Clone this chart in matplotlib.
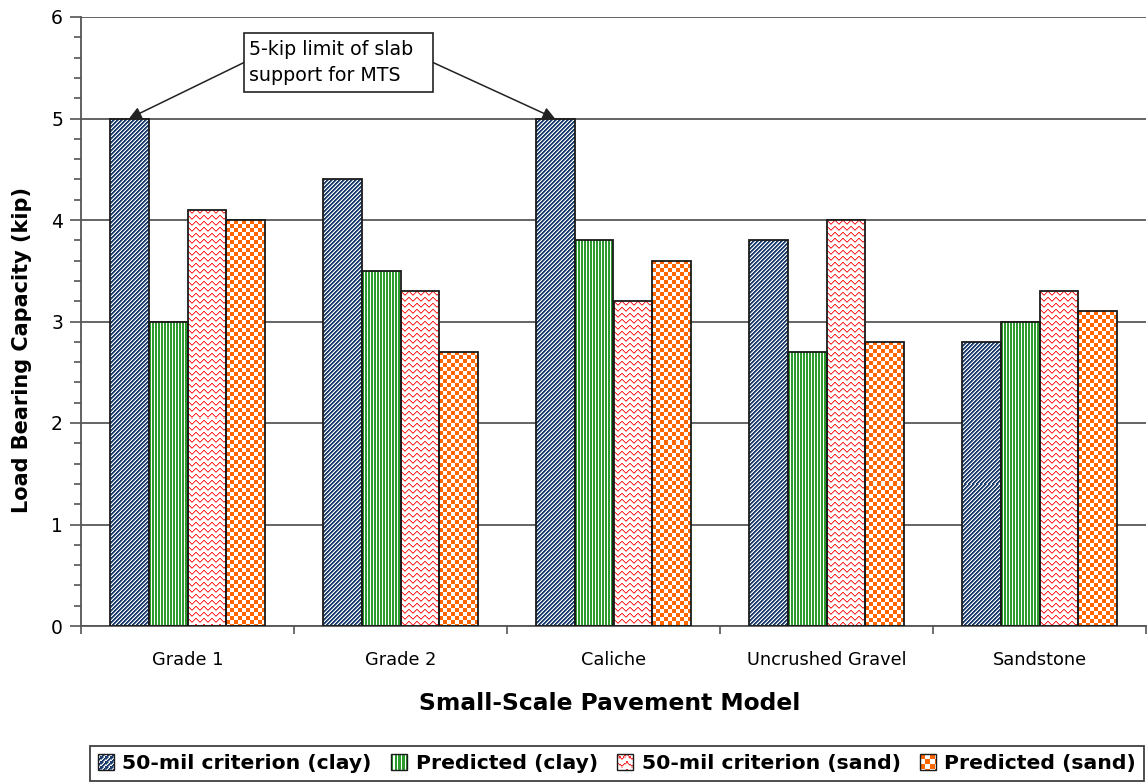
import numpy as np
import matplotlib
matplotlib.use("Agg")
import matplotlib.pyplot as plt
from matplotlib.legend_handler import HandlerBase
from matplotlib.image import BboxImage
from matplotlib.transforms import Bbox, TransformedBbox
from matplotlib.patches import Rectangle
from matplotlib.ticker import MultipleLocator, FixedLocator, NullFormatter, FixedFormatter

# ---- data -------------------------------------------------------------
categories = ["Grade 1", "Grade 2", "Caliche", "Uncrushed Gravel", "Sandstone"]
series_names = ["50-mil criterion (clay)", "Predicted (clay)",
                "50-mil criterion (sand)", "Predicted (sand)"]
crit_clay = [5.0, 4.4, 5.0, 3.8, 2.8]
pred_clay = [3.0, 3.5, 3.8, 2.7, 3.0]
crit_sand = [4.1, 3.3, 3.2, 4.0, 3.3]
pred_sand = [4.0, 2.7, 3.6, 2.8, 3.1]
series_values = [crit_clay, pred_clay, crit_sand, pred_sand]

y_label = "Load Bearing Capacity (kip)"
x_label = "Small-Scale Pavement Model"
note = "5-kip limit of slab\nsupport for MTS"

# ---- fill textures ----------------------------------------------------
NAVY = np.array([28, 62, 110]) / 255
GREEN = np.array([45, 155, 45]) / 255
RED = np.array([255, 45, 45]) / 255
PINK = np.array([255, 170, 170]) / 255
ORANGE = np.array([255, 102, 0]) / 255


def texture(kind, h, w):
    h, w = max(int(round(h)), 1), max(int(round(w)), 1)
    r = np.arange(h)[:, None]
    c = np.arange(w)[None, :]
    img = np.ones((h, w, 3))
    if kind == "diag":
        img[((c + r) % 4) < 2] = NAVY
        img[((c + r) % 4) == 2] = 0.5 * NAVY + 0.5
    elif kind == "vert":
        img[np.broadcast_to((c % 3) < 2, (h, w))] = GREEN
    elif kind == "wave":
        tri = np.array([0, 1, 2, 3, 3, 2, 1, 0])
        img[(r % 6) == (tri[c % 8] + 1) % 6] = PINK
        img[(r % 6) == tri[c % 8]] = RED
    else:
        img[((r // 4 + c // 4) % 2) == 0] = ORANGE
    return img


kinds = ["diag", "vert", "wave", "check"]

# ---- figure -----------------------------------------------------------
W, H, DPI = 1147, 783, 100
fig = plt.figure(figsize=(W / DPI, H / DPI), dpi=DPI)
ax_left, ax_bottom = 81 / W, (H - 626) / H
ax_w, ax_h = 1065 / W, 609 / H
ax = fig.add_axes([ax_left, ax_bottom, ax_w, ax_h])

n_cat = len(categories)
xmin, xmax = -0.5, n_cat - 0.5
ymin, ymax = 0, 6
ax.set_xlim(xmin, xmax)
ax.set_ylim(ymin, ymax)

px_per_x = ax_w * W / (xmax - xmin)
px_per_y = ax_h * H / (ymax - ymin)

bar_w = 0.183
x = np.arange(n_cat)
offsets = (np.arange(4) - 1.5) * bar_w

for k, (vals, kind) in enumerate(zip(series_values, kinds)):
    bars = ax.bar(x + offsets[k], vals, width=bar_w, facecolor="none",
                  edgecolor="#1a1a1a", linewidth=1.3, zorder=3)
    for rect in bars:
        x0, y0 = rect.get_x(), rect.get_y()
        bw, bh = rect.get_width(), rect.get_height()
        tex = texture(kind, bh * px_per_y, bw * px_per_x)
        im = ax.imshow(tex, extent=[x0, x0 + bw, y0, y0 + bh],
                       interpolation="nearest", aspect="auto", zorder=2)
        im.set_clip_path(rect)

ax.set_xlim(xmin, xmax)
ax.set_ylim(ymin, ymax)

# ---- axes styling -----------------------------------------------------
for s in ("top", "right"):
    ax.spines[s].set_visible(False)
for s in ("left", "bottom"):
    ax.spines[s].set_color("#555555")
    ax.spines[s].set_linewidth(1.3)

ax.yaxis.set_major_locator(MultipleLocator(1))
ax.yaxis.set_minor_locator(MultipleLocator(0.2))
ax.tick_params(axis="y", which="major", length=8, width=1.2, color="#555555",
               labelsize=13.5, pad=5)
ax.tick_params(axis="y", which="minor", length=5, width=1.2, color="#555555")
ax.grid(axis="y", which="major", color="#4a4a4a", linewidth=1.2, zorder=1)
ax.set_axisbelow(True)

ax.xaxis.set_major_locator(FixedLocator(np.arange(n_cat + 1) - 0.5))
ax.xaxis.set_major_formatter(NullFormatter())
ax.xaxis.set_minor_locator(FixedLocator(x))
ax.xaxis.set_minor_formatter(FixedFormatter(categories))
ax.tick_params(axis="x", which="major", length=6, width=1.2, color="#555555")
ax.tick_params(axis="x", which="minor", length=0, labelsize=12.8, pad=18)

fig.text(22 / W, 1 - 350 / H, y_label, rotation=90, ha="center", va="center",
         fontsize=15, fontweight="bold")
fig.text(610 / W, 1 - 704 / H, x_label, ha="center", va="center",
         fontsize=16.8, fontweight="bold")

# ---- note box with two arrows -----------------------------------------
def px_to_data(px, py):
    return (px - 81) / px_per_x + xmin, (626 - py) / px_per_y + ymin


bx0, by0 = px_to_data(244, 92)
bx1, by1 = px_to_data(433, 33)
ax.add_patch(Rectangle((bx0, by0), bx1 - bx0, by1 - by0, facecolor="white",
                       edgecolor="#222222", lw=1.2, zorder=5, clip_on=False))
ax.text(bx0 + 5 / px_per_x, (by0 + by1) / 2, note, ha="left", va="center",
        fontsize=13.7, linespacing=1.5, zorder=6)

mid_y = (by0 + by1) / 2
arrow = dict(arrowstyle="-|>", color="#222222", lw=1.1, mutation_scale=18,
             shrinkA=0, shrinkB=0)
ax.annotate("", xy=(x[0] + offsets[0], crit_clay[0]), xytext=(bx0, mid_y),
            arrowprops=arrow, zorder=4)
ax.annotate("", xy=(x[2] + offsets[0], crit_clay[2]), xytext=(bx1, mid_y),
            arrowprops=arrow, zorder=4)


# ---- legend with textured swatches ------------------------------------
class TextureHandler(HandlerBase):
    def __init__(self, kind):
        super().__init__()
        self.kind = kind

    def create_artists(self, legend, orig_handle, xdescent, ydescent,
                       width, height, fontsize, trans):
        side = min(width, height)
        x0 = -xdescent + (width - side) / 2
        y0 = -ydescent + (height - side) / 2
        bb = TransformedBbox(Bbox.from_bounds(x0, y0, side, side), trans)
        img = BboxImage(bb, interpolation="nearest")
        img.set_data(texture(self.kind, 13, 13))
        frame = Rectangle((x0, y0), side, side, facecolor="none",
                          edgecolor="#1a1a1a", lw=1.0, transform=trans)
        return [img, frame]


handles = [Rectangle((0, 0), 1, 1) for _ in series_names]
handler_map = {h: TextureHandler(k) for h, k in zip(handles, kinds)}
leg = fig.legend(handles, series_names, handler_map=handler_map,
                 loc="lower center", bbox_to_anchor=(617 / W, 2 / H),
                 ncol=4, frameon=True, fancybox=False, edgecolor="#111111",
                 prop=dict(weight="bold", size=14.7), handlelength=0.8,
                 handleheight=0.8, handletextpad=0.4, columnspacing=0.95,
                 borderpad=0.4, borderaxespad=0)
leg.get_frame().set_linewidth(1.3)

fig.savefig("out.png", dpi=DPI)
